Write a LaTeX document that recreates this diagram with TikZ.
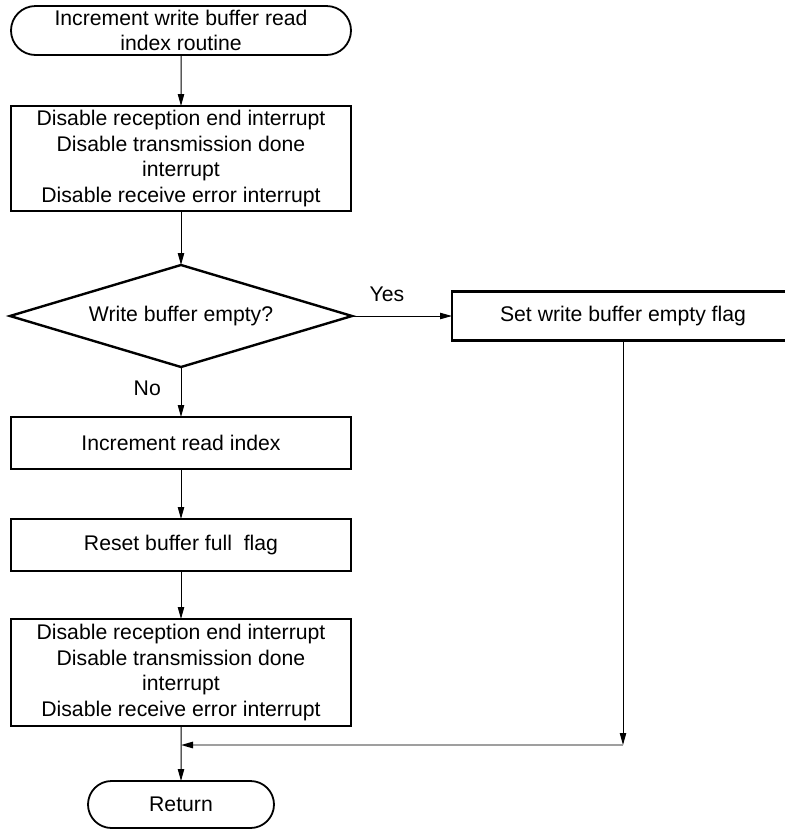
\documentclass[tikz,border=0pt]{standalone}
\usepackage{fontspec}
\setmainfont{Liberation Sans}
\usetikzlibrary{arrows.meta,positioning,shapes.geometric,shapes.misc}

\begin{document}
\begin{tikzpicture}[
  node distance=25pt,
  font=\fontsize{10.6}{12.75}\selectfont,
  box/.style={draw, line width=1.2pt, align=center, minimum width=170pt, minimum height=26pt, inner sep=1pt, outer sep=0pt},
  terminal/.style={draw, rounded rectangle, line width=0.9pt, align=center, inner sep=1pt, outer sep=0pt},
  decision/.style={draw, diamond, aspect=3.35, line width=1.2pt, minimum width=171pt, minimum height=51pt, inner sep=0pt, outer sep=0pt},
  arrow/.style={-{Triangle[length=6pt, width=3.2pt]}, line width=0.5pt},
  joinline/.style={draw=gray!75, line width=0.8pt, -{Triangle[length=6pt, width=3.2pt, color=black]}}
]
\useasboundingbox (0,0) rectangle (392.5pt,-415.5pt);
\node[terminal, minimum width=172pt, minimum height=24.5pt] (start) at (90.5pt,-15.25pt) {Increment write buffer read\\index routine};
\node[box, minimum height=52.5pt, below=25.5pt of start] (disable1) {Disable reception end interrupt\\Disable transmission done\\interrupt\\Disable receive error interrupt};
\node[decision, below=27pt of disable1] (empty) {Write buffer empty?};
\node[box, minimum width=171pt, minimum height=24.5pt, right=50pt of empty] (setflag) {Set write buffer empty flag};
\node[box, below=of empty] (incidx) {Increment read index};
\node[box, below=of incidx] (resetfull) {Reset buffer full~ flag};
\node[box, minimum height=53.5pt, below=24pt of resetfull] (disable2) {Disable reception end interrupt\\Disable transmission done\\interrupt\\Disable receive error interrupt};
\node[terminal, minimum width=95pt, minimum height=23.5pt, below=27.5pt of disable2] (return) {Return};
\coordinate[below=9.5pt of disable2] (merge);

% main column
\draw[arrow] (start) -- (disable1);
\draw[arrow] (disable1) -- (empty);
\draw[arrow] (empty) -- node[left=6.5pt, pos=0.42] (no) {No} (incidx);
\draw[arrow] (incidx) -- (resetfull);
\draw[arrow] (resetfull) -- (disable2);
\draw[arrow] (disable2) -- (return);

% yes branch and its way back
\draw[arrow] (empty) -- node[above=3.5pt, pos=0.35] (yes) {Yes} (setflag);
\draw[arrow] (setflag) -- (setflag |- merge);
\draw[joinline] (setflag |- merge) -- (merge);
\end{tikzpicture}
\end{document}
